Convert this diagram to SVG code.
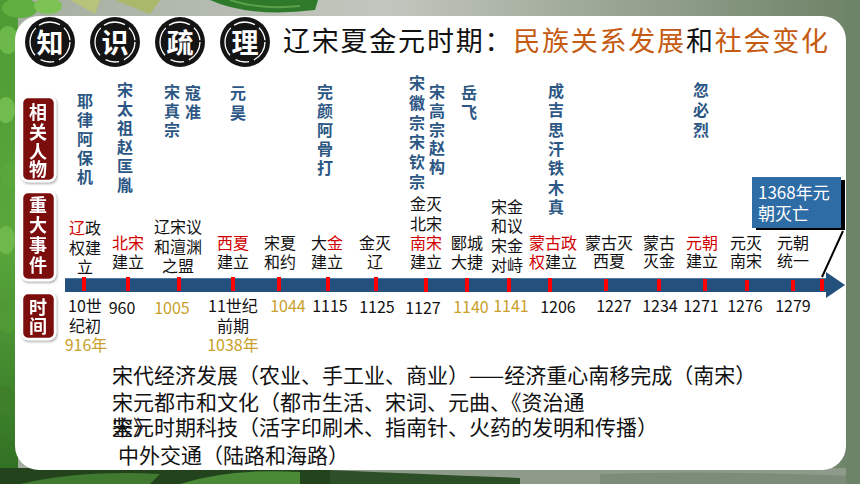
<svg xmlns="http://www.w3.org/2000/svg" width="860" height="484" viewBox="0 0 860 484">
<defs>
<linearGradient id="bgG" x1="0" y1="0" x2="1" y2="0">
<stop offset="0" stop-color="#a3ad9e"/>
<stop offset="0.45" stop-color="#c3c6be"/>
<stop offset="0.78" stop-color="#8f9d89"/>
<stop offset="1" stop-color="#6c8266"/>
</linearGradient>
<linearGradient id="leafL" x1="0" y1="0" x2="0" y2="1">
<stop offset="0" stop-color="#4e9a34"/>
<stop offset="0.5" stop-color="#5aa83c"/>
<stop offset="1" stop-color="#2f6e22"/>
</linearGradient>
<filter id="sh" x="-30%" y="-30%" width="160%" height="160%">
<feDropShadow dx="1" dy="1.5" stdDeviation="1.2" flood-color="#000" flood-opacity="0.35"/>
</filter>
<style>
text{font-family:"Noto Sans CJK SC","Noto Sans CJK JP",sans-serif}
.ttl{font-size:27px;fill:#111}
.or{fill:#c55a11}
.circ{fill:#141414}
.ring{fill:none;stroke:#fff;stroke-width:1.3;stroke-dasharray:22 5 14 7 30 4}
.ch{font-size:27px;font-weight:bold;fill:#fff;text-anchor:middle}
.lab{fill:#7b0b0b;stroke:#fff;stroke-width:2.5}
.labt{font-size:18px;font-weight:bold;fill:#fff;text-anchor:middle}
.nm{font-size:16px;font-weight:bold;fill:#2c5784;text-anchor:middle}
.ev{font-size:16px;fill:#111;text-anchor:middle}
.r{fill:#d10000}
.dt{font-size:16px;fill:#111;text-anchor:middle}
.g{fill:#c9a02a}
.tick{fill:#ff0000}
.bt{font-size:21px;fill:#111}
</style>
</defs>

<g id="background">
<rect x="0" y="0" width="860" height="484" fill="url(#bgG)"/>
<rect x="0" y="0" width="18" height="484" fill="url(#leafL)"/>
<ellipse cx="8" cy="40" rx="10" ry="14" fill="#6db84a"/>
<ellipse cx="6" cy="110" rx="9" ry="13" fill="#72bb4e"/>
<ellipse cx="9" cy="175" rx="9" ry="12" fill="#5aa83c"/>
<ellipse cx="6" cy="240" rx="9" ry="14" fill="#6fb94c"/>
<ellipse cx="8" cy="320" rx="10" ry="13" fill="#4f9a35"/>
<ellipse cx="6" cy="400" rx="9" ry="14" fill="#3f7f2a"/>
<ellipse cx="20" cy="8" rx="18" ry="10" fill="#5fae3f"/>
<ellipse cx="48" cy="6" rx="14" ry="8" fill="#7cc255"/>
<path d="M70 0 L95 14 L100 0 Z" fill="#b7c27a"/>
<path d="M115 0 L150 14 L160 0 Z" fill="#a9b86a"/>
<path d="M210 0 Q250 18 315 10 L318 0 Z" fill="#2f7a2a"/>
<path d="M230 0 Q260 10 300 6" stroke="#5aa04a" stroke-width="2" fill="none"/>
<rect x="0" y="468" width="860" height="16" fill="#8f9b8a"/>
<path d="M0 468 L330 468 L330 484 L0 484 Z" fill="#23431d"/>
<path d="M20 484 Q80 470 160 474 L150 484 Z" fill="#3f7a30"/>
<path d="M180 484 Q230 468 300 472 L300 484 Z" fill="#4a8a36"/>
<path d="M330 470 Q420 474 520 478 L520 484 L330 484 Z" fill="#2d4f27"/>
<path d="M600 474 Q700 470 860 476 L860 484 L600 484 Z" fill="#7d8c78"/>
<rect x="846" y="0" width="14" height="484" fill="#6e8468"/>
</g>

<g id="panel">
<rect x="15" y="16" width="831" height="454" rx="24" ry="24" fill="#fff"/>
</g>

<g id="header">
<circle class="circ" cx="50" cy="42" r="25"/><circle class="ring" cx="50" cy="42" r="20"/><text class="ch" x="50" y="53">知</text>
<circle class="circ" cx="115" cy="42" r="25"/><circle class="ring" cx="115" cy="42" r="20"/><text class="ch" x="115" y="53">识</text>
<circle class="circ" cx="180" cy="42" r="25"/><circle class="ring" cx="180" cy="42" r="20"/><text class="ch" x="180" y="53">疏</text>
<circle class="circ" cx="245" cy="42" r="25"/><circle class="ring" cx="245" cy="42" r="20"/><text class="ch" x="245" y="53">理</text>
<text class="ttl" x="283" y="51" textLength="545" lengthAdjust="spacing">辽宋夏金元时期：<tspan class="or">民族关系发展</tspan>和<tspan class="or">社会变化</tspan></text>
</g>

<g id="row-labels" filter="url(#sh)">
<g id="label-people"><rect class="lab" x="22" y="97" width="33" height="84" rx="6"/>
<text class="labt"><tspan x="38" y="119">相</tspan><tspan x="38" y="139">关</tspan><tspan x="38" y="158">人</tspan><tspan x="38" y="176">物</tspan></text></g>
<g id="label-events"><rect class="lab" x="22" y="192" width="33" height="88" rx="6"/>
<text class="labt"><tspan x="38" y="212">重</tspan><tspan x="38" y="232">大</tspan><tspan x="38" y="252">事</tspan><tspan x="38" y="272">件</tspan></text></g>
<g id="label-time"><rect class="lab" x="22" y="293" width="33" height="46" rx="6"/>
<text class="labt"><tspan x="38" y="314">时</tspan><tspan x="38" y="333">间</tspan></text></g>
</g>

<g id="people">
<text class="nm"><tspan x="85" y="107">耶</tspan><tspan x="85" y="126">律</tspan><tspan x="85" y="145">阿</tspan><tspan x="85" y="164">保</tspan><tspan x="85" y="183">机</tspan></text>
<text class="nm"><tspan x="125" y="96">宋</tspan><tspan x="125" y="115">太</tspan><tspan x="125" y="134">祖</tspan><tspan x="125" y="153">赵</tspan><tspan x="125" y="172">匡</tspan><tspan x="125" y="191">胤</tspan></text>
<text class="nm"><tspan x="172" y="98">宋</tspan><tspan x="172" y="117">真</tspan><tspan x="172" y="136">宗</tspan></text>
<text class="nm"><tspan x="193" y="99">寇</tspan><tspan x="193" y="118">准</tspan></text>
<text class="nm"><tspan x="238" y="99">元</tspan><tspan x="238" y="119">昊</tspan></text>
<text class="nm"><tspan x="325" y="98">完</tspan><tspan x="325" y="117">颜</tspan><tspan x="325" y="136">阿</tspan><tspan x="325" y="155">骨</tspan><tspan x="325" y="174">打</tspan></text>
<text class="nm"><tspan x="417" y="89">宋</tspan><tspan x="417" y="109">徽</tspan><tspan x="417" y="129">宗</tspan><tspan x="417" y="148">宋</tspan><tspan x="417" y="168">钦</tspan><tspan x="417" y="188">宗</tspan></text>
<text class="nm"><tspan x="437" y="98">宋</tspan><tspan x="437" y="117">高</tspan><tspan x="437" y="136">宗</tspan><tspan x="437" y="154">赵</tspan><tspan x="437" y="173">构</tspan></text>
<text class="nm"><tspan x="469" y="99">岳</tspan><tspan x="469" y="118">飞</tspan></text>
<text class="nm"><tspan x="556" y="97">成</tspan><tspan x="556" y="116">吉</tspan><tspan x="556" y="136">思</tspan><tspan x="556" y="155">汗</tspan><tspan x="556" y="174">铁</tspan><tspan x="556" y="194">木</tspan><tspan x="556" y="213">真</tspan></text>
<text class="nm"><tspan x="701" y="96">忽</tspan><tspan x="701" y="116">必</tspan><tspan x="701" y="136">烈</tspan></text>
</g>

<g id="events">
<text class="ev"><tspan x="85" y="234"><tspan class="r">辽</tspan>政</tspan><tspan x="85" y="254">权建</tspan><tspan x="85" y="273">立</tspan></text>
<text class="ev"><tspan x="128" y="249" class="r">北宋</tspan><tspan x="128" y="268">建立</tspan></text>
<text class="ev"><tspan x="178" y="233">辽宋议</tspan><tspan x="178" y="253">和澶渊</tspan><tspan x="178" y="272">之盟</tspan></text>
<text class="ev"><tspan x="233" y="249" class="r">西夏</tspan><tspan x="233" y="268">建立</tspan></text>
<text class="ev"><tspan x="280" y="249">宋夏</tspan><tspan x="280" y="268">和约</tspan></text>
<text class="ev"><tspan x="327" y="249">大<tspan class="r">金</tspan></tspan><tspan x="327" y="268">建立</tspan></text>
<text class="ev"><tspan x="375" y="249">金灭</tspan><tspan x="375" y="268">辽</tspan></text>
<text class="ev"><tspan x="426" y="210">金灭</tspan><tspan x="426" y="230">北宋</tspan><tspan x="426" y="249" class="r">南宋</tspan><tspan x="426" y="268">建立</tspan></text>
<text class="ev"><tspan x="467" y="249">郾城</tspan><tspan x="467" y="268">大捷</tspan></text>
<text class="ev"><tspan x="507" y="213">宋金</tspan><tspan x="507" y="232">和议</tspan><tspan x="507" y="252">宋金</tspan><tspan x="507" y="271">对峙</tspan></text>
<text class="ev"><tspan x="553" y="249" class="r">蒙古政</tspan><tspan x="553" y="268"><tspan class="r">权</tspan>建立</tspan></text>
<text class="ev"><tspan x="609" y="249">蒙古灭</tspan><tspan x="609" y="267">西夏</tspan></text>
<text class="ev"><tspan x="659" y="249">蒙古</tspan><tspan x="659" y="267">灭金</tspan></text>
<text class="ev"><tspan x="702" y="249" class="r">元朝</tspan><tspan x="702" y="267">建立</tspan></text>
<text class="ev"><tspan x="746" y="249">元灭</tspan><tspan x="746" y="267">南宋</tspan></text>
<text class="ev"><tspan x="793" y="249">元朝</tspan><tspan x="793" y="267">统一</tspan></text>
</g>

<g id="connectors">
<rect x="65" y="278" width="763" height="14" fill="#23507c"/>
<line x1="65" y1="278.5" x2="828" y2="278.5" stroke="#4f7aa3" stroke-width="1"/>
<polygon points="826,272 845,285 826,298" fill="#23507c"/>
<line x1="843" y1="231" x2="822" y2="277" stroke="#000" stroke-width="2"/>
</g>

<g id="ticks">
<rect class="tick" x="82" y="277" width="4" height="14"/>
<rect class="tick" x="126" y="277" width="4" height="14"/>
<rect class="tick" x="177" y="277" width="4" height="14"/>
<rect class="tick" x="231" y="277" width="4" height="14"/>
<rect class="tick" x="277" y="277" width="4" height="14"/>
<rect class="tick" x="326" y="277" width="4" height="14"/>
<rect class="tick" x="374" y="277" width="4" height="14"/>
<rect class="tick" x="424" y="278" width="4" height="14"/>
<rect class="tick" x="465" y="278" width="4" height="14"/>
<rect class="tick" x="507" y="278" width="4" height="14"/>
<rect class="tick" x="548" y="278" width="4" height="14"/>
<rect class="tick" x="604" y="279" width="4" height="12"/>
<rect class="tick" x="657" y="279" width="4" height="12"/>
<rect class="tick" x="703" y="279" width="4" height="12"/>
<rect class="tick" x="745" y="280" width="4" height="11"/>
<rect class="tick" x="791" y="280" width="4" height="11"/>
<rect class="tick" x="820" y="279" width="4" height="12"/>
</g>

<g id="callout">
<rect x="756" y="180" width="89" height="50" fill="#000"/>
<rect x="752" y="177" width="89" height="51" fill="#2e6ca5"/>
<text x="758" y="199" style="font-size:17px;fill:#fff">1368年元</text>
<text x="758" y="220" style="font-size:17px;fill:#fff">朝灭亡</text>
</g>

<g id="dates">
<text class="dt"><tspan x="85" y="312">10世</tspan><tspan x="85" y="332">纪初</tspan><tspan x="86" y="351" class="g">916年</tspan></text>
<text class="dt" x="122" y="314">960</text>
<text class="dt g" x="172" y="314">1005</text>
<text class="dt"><tspan x="233" y="312">11世纪</tspan><tspan x="233" y="332">前期</tspan><tspan x="233" y="351" class="g">1038年</tspan></text>
<text class="dt g" x="288" y="312">1044</text>
<text class="dt" x="330" y="312">1115</text>
<text class="dt" x="377" y="313">1125</text>
<text class="dt" x="423" y="314">1127</text>
<text class="dt g" x="471" y="313">1140</text>
<text class="dt g" x="511" y="312">1141</text>
<text class="dt" x="558" y="313">1206</text>
<text class="dt" x="614" y="312">1227</text>
<text class="dt" x="660" y="312">1234</text>
<text class="dt" x="701" y="312">1271</text>
<text class="dt" x="745" y="312">1276</text>
<text class="dt" x="793" y="312">1279</text>
</g>

<g id="summary">
<text class="bt" x="112" y="383">宋代经济发展（农业、手工业、商业）——经济重心南移完成（南宋）</text>
<text class="bt" x="112" y="410">宋元都市和文化（都市生活、宋词、元曲、《资治通</text>
<text class="bt" x="112" y="435">鉴》</text>
<text class="bt" x="112" y="435">宋元时期科技（活字印刷术、指南针、火药的发明和传播）</text>
<text class="bt" x="118" y="463">中外交通（陆路和海路）</text>
</g>
</svg>
